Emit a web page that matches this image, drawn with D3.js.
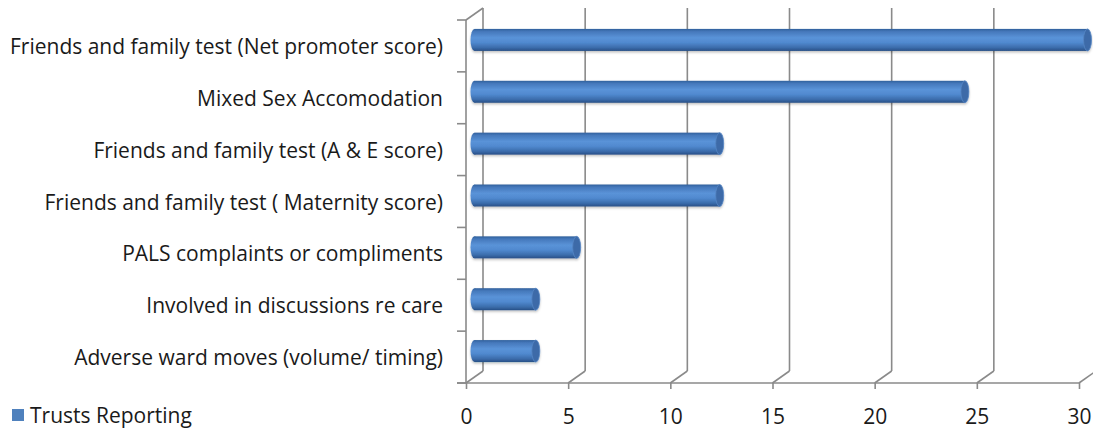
<!DOCTYPE html>
<html>
<head>
<meta charset="utf-8">
<script src="https://cdn.jsdelivr.net/npm/d3@7"></script>
<style>
  html, body { margin: 0; padding: 0; background: #fff; }
  svg { display: block; }
  text { font-family: "Open Sans", Lato, sans-serif; fill: #1a1a1a; }
</style>
</head>
<body>
<svg id="chart" width="1093" height="433"></svg>
<script>
// Patient-experience measures and how many trusts report each one
const categories = [
  "Friends and family test (Net promoter score)",
  "Mixed Sex Accomodation",
  "Friends and family test (A & E score)",
  "Friends and family test ( Maternity score)",
  "PALS complaints or compliments",
  "Involved in discussions re care",
  "Adverse ward moves (volume/ timing)"
];
const trustsReporting = [30, 24, 12, 12, 5, 3, 3];
const xTicks = [0, 5, 10, 15, 20, 25, 30];
const seriesName = "Trusts Reporting";

const svg = d3.select("#chart");
const fontFamily = "'Open Sans', Lato, sans-serif";
const fontSize = 21;

// front plane of the 3-D box and the depth offset to its back wall
const front = { left: 466, right: 1079, top: 20, bottom: 383 };
const depth = { dx: 17, dy: -12 };
const gridColor = "#8a8a8a";

const x = d3.scaleLinear().domain([0, 30]).range([front.left, front.right]);
const y = d3.scaleBand().domain(categories).range([front.top, front.bottom]).padding(0);

// cylinder shading
const defs = svg.append("defs");
const grad = defs.append("linearGradient")
  .attr("id", "cyl").attr("x1", 0).attr("y1", 0).attr("x2", 0).attr("y2", 1);
[["0%", "#30609c"], ["12%", "#4578bb"], ["40%", "#5a93d8"], ["62%", "#5089cf"], ["85%", "#3b6cab"], ["100%", "#284f86"]]
  .forEach(([o, c]) => grad.append("stop").attr("offset", o).attr("stop-color", c));
const shadow = defs.append("filter").attr("id", "soft").attr("x", "-5%").attr("y", "-30%").attr("width", "110%").attr("height", "170%");
shadow.append("feDropShadow").attr("dx", 0).attr("dy", 1.5).attr("stdDeviation", 1.2)
  .attr("flood-color", "#000").attr("flood-opacity", 0.25);

const grid = svg.append("g").attr("stroke", gridColor).attr("stroke-width", 1.6).attr("fill", "none");

// back-wall gridlines with their floor diagonals
xTicks.forEach(v => {
  const fx = x(v), bx = x(v) + depth.dx;
  grid.append("line").attr("x1", bx).attr("x2", bx)
    .attr("y1", front.top + depth.dy).attr("y2", front.bottom + depth.dy);
  grid.append("line").attr("x1", fx).attr("x2", bx)
    .attr("y1", front.bottom).attr("y2", front.bottom + depth.dy);
});

// left wall edge
grid.append("line").attr("x1", front.left).attr("x2", front.left)
  .attr("y1", front.top).attr("y2", front.bottom);
grid.append("line").attr("x1", front.left).attr("x2", front.left + depth.dx)
  .attr("y1", front.top).attr("y2", front.top + depth.dy);

// bottom value axis
const xAxis = svg.append("g")
  .attr("transform", `translate(0,${front.bottom})`)
  .call(d3.axisBottom(x).tickValues(xTicks).tickSize(6).tickPadding(20).tickSizeOuter(0));
xAxis.select(".domain").attr("stroke", gridColor).attr("stroke-width", 1.6)
  .attr("d", `M${front.left - 9},0H${front.right}`);
xAxis.selectAll(".tick line").attr("stroke", gridColor).attr("stroke-width", 1.6);
xAxis.selectAll(".tick text").attr("font-family", fontFamily)
  .attr("font-size", fontSize).attr("fill", "#1a1a1a");

// category axis ticks on the left wall
const bounds = d3.range(categories.length + 1).map(i => front.top + i * y.step());
grid.selectAll("line.ctick").data(bounds).join("line").attr("class", "ctick")
  .attr("x1", front.left - 9).attr("x2", front.left)
  .attr("y1", d => d).attr("y2", d => d);

// category labels
svg.append("g").selectAll("text").data(categories).join("text")
  .attr("x", 443)
  .attr("y", d => y(d) + y.bandwidth() / 2)
  .attr("text-anchor", "end")
  .attr("dominant-baseline", "central")
  .attr("font-size", fontSize)
  .text(d => d);

// cylinders sit half-way into the depth of the box
const barH = 22, capRx = 4;
const bars = svg.append("g").attr("filter", "url(#soft)").selectAll("g")
  .data(categories.map((c, i) => ({ c, v: trustsReporting[i] })))
  .join("g");
const cy = d => y(d.c) + y.bandwidth() / 2 + depth.dy / 2;
const x0 = x(0) + depth.dx / 2;
const xe = d => x(d.v) + depth.dx / 2;

bars.append("ellipse")
  .attr("cx", x0).attr("cy", cy).attr("rx", capRx).attr("ry", barH / 2)
  .attr("fill", "url(#cyl)");
bars.append("rect")
  .attr("x", x0).attr("y", d => cy(d) - barH / 2)
  .attr("width", d => xe(d) - x0).attr("height", barH)
  .attr("fill", "url(#cyl)");
bars.append("ellipse")
  .attr("cx", xe).attr("cy", cy).attr("rx", capRx).attr("ry", barH / 2)
  .attr("fill", "#3d6ba8").attr("stroke", "#5585c4").attr("stroke-width", 0.8);

// legend
const legend = svg.append("g");
legend.append("rect").attr("x", 12).attr("y", 409).attr("width", 12).attr("height", 12).attr("fill", "#4f81bd");
legend.append("text").attr("x", 30).attr("y", 415).attr("dominant-baseline", "central")
  .attr("font-size", fontSize).text(seriesName);
</script>
</body>
</html>
